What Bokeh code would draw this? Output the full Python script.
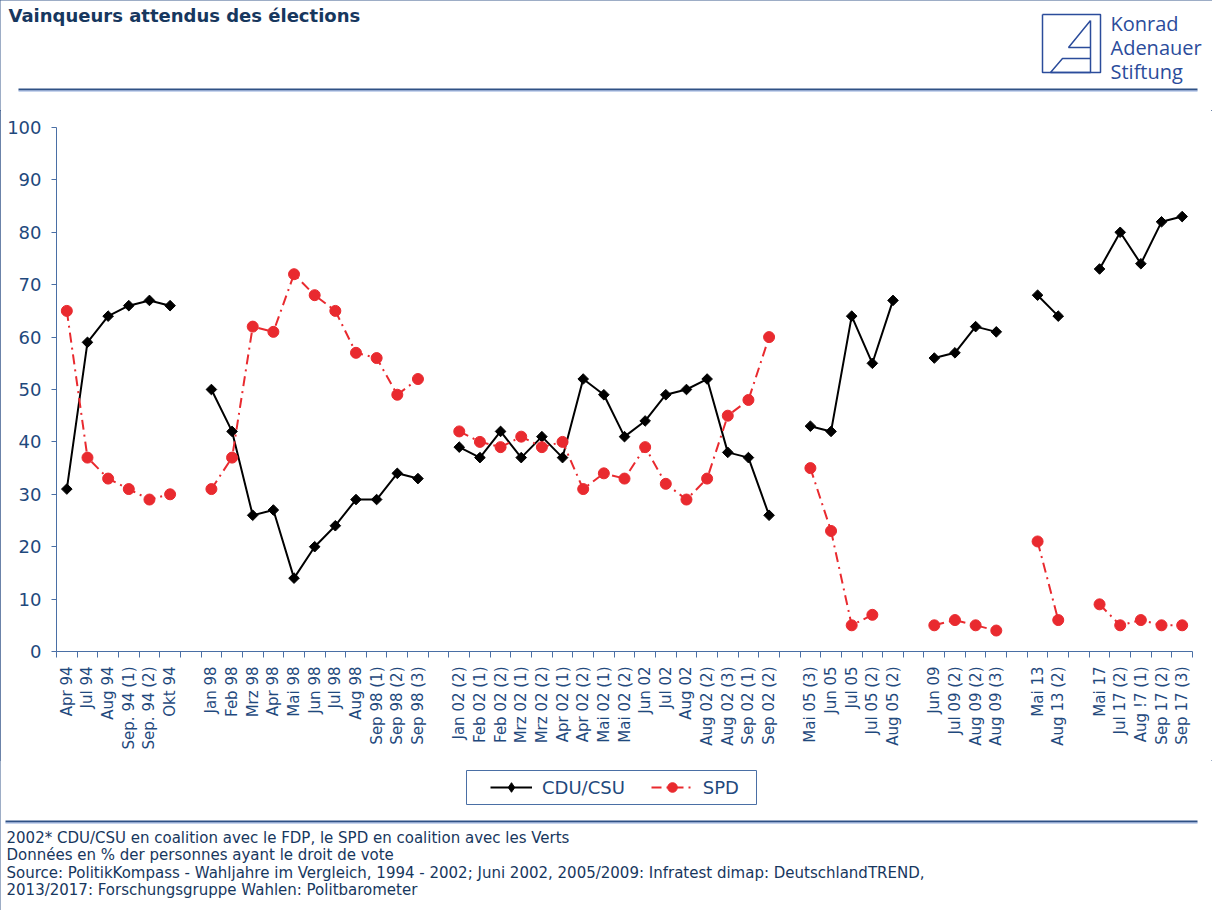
import math
from bokeh.plotting import figure
from bokeh.layouts import column
from bokeh.models import (Range1d, FixedTicker, Legend, LegendItem, Label,
                          ColumnDataSource)
from bokeh.embed import file_html
from bokeh.resources import INLINE

NA = float("nan")

# ---------------- data ----------------
categories = [
    "Apr 94", "Jul 94", "Aug 94", "Sep. 94 (1)", "Sep. 94 (2)", "Okt 94", "",
    "Jan 98", "Feb 98", "Mrz 98", "Apr 98", "Mai 98", "Jun 98", "Jul 98", "Aug 98",
    "Sep 98 (1)", "Sep 98 (2)", "Sep 98 (3)", "",
    "Jan 02 (2)", "Feb 02 (1)", "Feb 02 (2)", "Mrz 02 (1)", "Mrz 02 (2)", "Apr 02 (1)",
    "Apr 02 (2)", "Mai 02 (1)", "Mai 02 (2)", "Jun 02", "Jul 02", "Aug 02", "Aug 02 (2)",
    "Aug 02 (3)", "Sep 02 (1)", "Sep 02 (2)", "",
    "Mai 05 (3)", "Jun 05", "Jul 05", "Jul 05 (2)", "Aug 05 (2)", "",
    "Jun 09", "Jul 09 (2)", "Aug 09 (2)", "Aug 09 (3)", "",
    "Mai 13", "Aug 13 (2)", "",
    "Mai 17", "Jul 17 (2)", "Aug !7 (1)", "Sep 17 (2)", "Sep 17 (3)",
]

cdu_csu = [
    31, 59, 64, 66, 67, 66, NA,
    50, 42, 26, 27, 14, 20, 24, 29, 29, 34, 33, NA,
    39, 37, 42, 37, 41, 37, 52, 49, 41, 44, 49, 50, 52, 38, 37, 26, NA,
    43, 42, 64, 55, 67, NA,
    56, 57, 62, 61, NA,
    68, 64, NA,
    73, 80, 74, 82, 83,
]

spd = [
    65, 37, 33, 31, 29, 30, NA,
    31, 37, 62, 61, 72, 68, 65, 57, 56, 49, 52, NA,
    42, 40, 39, 41, 39, 40, 31, 34, 33, 39, 32, 29, 33, 45, 48, 60, NA,
    35, 23, 5, 7, NA, NA,
    5, 6, 5, 4, NA,
    21, 6, NA,
    9, 5, 6, 5, 5,
]

series_names = ["CDU/CSU", "SPD"]
y_ticks = list(range(0, 101, 10))
title_text = "Vainqueurs attendus des élections"
logo_lines = ["Konrad", "Adenauer", "Stiftung"]
footer_lines = [
    "2002* CDU/CSU en coalition avec le FDP, le SPD en coalition avec les Verts",
    "Données en % der personnes ayant le droit de vote",
    "Source: PolitikKompass - Wahljahre im Vergleich, 1994 - 2002; Juni 2002,  2005/2009: Infratest dimap: DeutschlandTREND,",
    "2013/2017: Forschungsgruppe Wahlen: Politbarometer",
]

# ---------------- styles ----------------
NAVY = "#1F497D"
TITLE = "#17375E"
AXIS = "#4A6FA5"
RED = "#E92A2F"
LOGO = "#2B4C9B"
RULE = "#2F5185"
LIGHT = "#8FAADC"

W = 1212
H_HEAD, H_MAIN, H_FOOT = 110, 650, 150


def canvas_fig(height, y0):
    f = figure(width=W, height=height, x_range=Range1d(0, W),
               y_range=Range1d(y0 + height, y0),
               output_backend="svg", toolbar_location=None,
               x_axis_location=None, y_axis_location=None,
               min_border_left=0, min_border_right=0,
               min_border_top=0, min_border_bottom=0,
               frame_align=False)
    f.grid.visible = False
    f.outline_line_color = None
    f.background_fill_color = "white"
    f.border_fill_color = "white"
    return f


# ---------------- header ----------------
head = canvas_fig(H_HEAD, 0)
head.add_layout(Label(x=8, y=4, text=title_text, text_baseline="top",
                      text_font="DejaVu Sans", text_font_style="bold",
                      text_font_size="18px", text_color=TITLE))
head.line([1042, 1100, 1100, 1042, 1042], [14, 14, 72, 72, 14],
          line_color=LOGO, line_width=1.5)
head.line([1090, 1068, 1090, 1090, 1062, 1050, 1090, 1090],
          [20, 47, 47, 58, 58, 72, 72, 20], line_color=LOGO, line_width=1.5)
for i, t in enumerate(logo_lines):
    head.add_layout(Label(x=1110, y=9 + 24 * i, text=t, text_baseline="top",
                          text_font="Open Sans", text_font_size="20px",
                          text_color=LOGO))
head.quad(left=[18], right=[1197], top=[88], bottom=[90],
          fill_color=RULE, line_alpha=0)
head.quad(left=[18], right=[1197], top=[90], bottom=[91],
          fill_color=LIGHT, line_alpha=0)

# ---------------- main chart ----------------
pos = list(range(1, len(categories) + 1))
src = ColumnDataSource(dict(x=pos, cdu=cdu_csu, spd=spd))

p = figure(width=W, height=H_MAIN,
           x_range=Range1d(0.5, len(categories) + 0.5),
           y_range=Range1d(0, 100),
           output_backend="svg", toolbar_location=None,
           min_border_left=56, min_border_right=20,
           min_border_top=17, min_border_bottom=109,
           frame_align=False)
p.grid.visible = False
p.outline_line_color = None
p.background_fill_color = "white"
p.border_fill_color = "white"

xa = p.xaxis[0]
xa.ticker = FixedTicker(ticks=[x for x, c in zip(pos, categories) if c],
                        minor_ticks=[i + 0.5 for i in range(len(categories) + 1)])
xa.major_label_overrides = {x: c for x, c in zip(pos, categories) if c}
xa.major_label_orientation = math.pi / 2
xa.major_tick_out = 0
xa.major_tick_in = 0
xa.minor_tick_out = 6
xa.minor_tick_in = 0
xa.minor_tick_line_color = AXIS
xa.axis_line_color = AXIS
xa.major_label_standoff = 9
xa.major_label_text_font = "DejaVu Sans"
xa.major_label_text_font_size = "15px"
xa.major_label_text_color = NAVY

ya = p.yaxis[0]
ya.ticker = FixedTicker(ticks=y_ticks, minor_ticks=[])
ya.major_tick_out = 5
ya.major_tick_in = 0
ya.minor_tick_out = 0
ya.minor_tick_in = 0
ya.axis_line_color = AXIS
ya.major_tick_line_color = AXIS
ya.major_label_standoff = 10
ya.major_label_text_font = "DejaVu Sans"
ya.major_label_text_font_size = "18px"
ya.major_label_text_color = NAVY

CDU_LINE = dict(line_color="black", line_width=2)
CDU_MARK = dict(marker="square", angle=math.pi / 4, size=7.5,
                fill_color="black", line_color="black")
SPD_LINE = dict(line_color=RED, line_width=2, line_dash="10 5 2 5")
SPD_MARK = dict(marker="circle", size=11, fill_color=RED, line_color=RED)

p.line("x", "cdu", source=src, **CDU_LINE)
p.scatter("x", "cdu", source=src, **CDU_MARK)
p.line("x", "spd", source=src, **SPD_LINE)
p.scatter("x", "spd", source=src, **SPD_MARK)

# ---------------- footer ----------------
foot = canvas_fig(H_FOOT, H_HEAD + H_MAIN)
Y0 = H_HEAD + H_MAIN + H_FOOT
lsrc = ColumnDataSource(dict(x=[NA], y=[NA]))
k1 = foot.line("x", "y", source=lsrc, **CDU_LINE)
k2 = foot.scatter("x", "y", source=lsrc, marker="diamond", size=12,
                  fill_color="black", line_color="black")
k3 = foot.line("x", "y", source=lsrc, **SPD_LINE)
k4 = foot.scatter("x", "y", source=lsrc, **SPD_MARK)
foot.line([466, 756, 756, 466, 466], [770, 770, 804, 804, 770],
          line_color=AXIS, line_width=1)
legend = Legend(items=[LegendItem(label=series_names[0], renderers=[k1, k2]),
                       LegendItem(label=series_names[1], renderers=[k3, k4])],
                orientation="horizontal", location=(485, Y0 - 804),
                glyph_width=42, glyph_height=24, label_standoff=10,
                spacing=26, padding=5, margin=0,
                border_line_alpha=0, background_fill_alpha=0,
                label_text_font="DejaVu Sans", label_text_font_size="18px",
                label_text_color=NAVY)
foot.add_layout(legend, "center")
foot.quad(left=[5], right=[1197], top=[820], bottom=[822],
          fill_color=RULE, line_alpha=0)
foot.quad(left=[5], right=[1197], top=[822], bottom=[823],
          fill_color=LIGHT, line_alpha=0)
for i, t in enumerate(footer_lines):
    foot.add_layout(Label(x=6, y=828 + 17.5 * i, text=t, text_baseline="top",
                          text_font="DejaVu Sans", text_font_size="15px",
                          text_color=TITLE))

layout = column(head, p, foot, spacing=0,
                styles={"outline": "1px solid #3A5A8C", "outline-offset": "-1px"})

open("out.html", "w").write(file_html(layout, INLINE))
